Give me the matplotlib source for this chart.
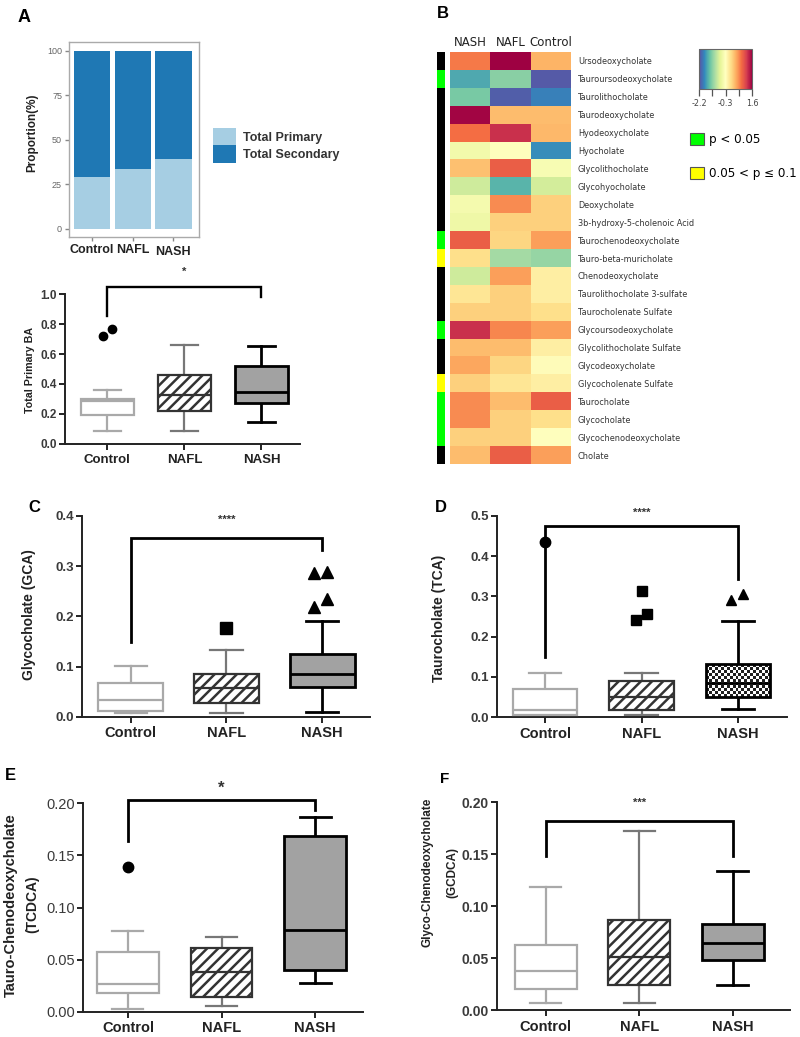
import matplotlib
matplotlib.use('Agg')
import matplotlib.pyplot as plt
import numpy as np
from matplotlib.patches import Patch
from matplotlib.colors import ListedColormap

plt.rcParams['font.family'] = ['Liberation Sans', 'DejaVu Sans']
plt.rcParams['hatch.linewidth'] = 1.8

W, H = 800, 1037
fig = plt.figure(figsize=(8, 10.37), dpi=100)


def add_ax(l, t, r, b):
    return fig.add_axes([l / W, 1 - b / H, (r - l) / W, (b - t) / H])


def ptext(x, y, s, **kw):
    return fig.text(x / W, 1 - y / H, s, **kw)


# ---------------------------------------------------------------- data
groups = ['Control', 'NAFL', 'NASH']

# Panel A (top): proportion of primary / secondary bile acids (%)
primary_pct = [29.2, 33.7, 39.3]
secondary_pct = [70.8, 66.3, 60.7]

# Panel A (bottom): Total Primary BA
tpba_whislo = [0.084, 0.089, 0.147]
tpba_q1 = [0.196, 0.222, 0.273]
tpba_med = [0.284, 0.329, 0.344]
tpba_q3 = [0.302, 0.462, 0.522]
tpba_whishi = [0.360, 0.662, 0.653]
tpba_fliers = [[0.718, 0.769], [], []]
tpba_bracket = [0.851, 1.047, 0.978]

# Panel B heatmap
bile_acids = ['Ursodeoxycholate', 'Tauroursodeoxycholate', 'Taurolithocholate',
              'Taurodeoxycholate', 'Hyodeoxycholate', 'Hyocholate',
              'Glycolithocholate', 'Glycohyocholate', 'Deoxycholate',
              '3b-hydroxy-5-cholenoic Acid', 'Taurochenodeoxycholate',
              'Tauro-beta-muricholate', 'Chenodeoxycholate',
              'Taurolithocholate 3-sulfate', 'Taurocholenate Sulfate',
              'Glycoursodeoxycholate', 'Glycolithocholate Sulfate',
              'Glycodeoxycholate', 'Glycocholenate Sulfate', 'Taurocholate',
              'Glycocholate', 'Glycochenodeoxycholate', 'Cholate']
heat_columns = ['NASH', 'NAFL', 'Control']
heat_nash = [0.76, -1.60, -1.33, 1.56, 0.84, -0.49, 0.31, -0.83, -0.45, -0.53,
             0.95, 0.08, -0.83, 0.00, 0.19, 1.30, 0.35, 0.50, 0.19, 0.65,
             0.65, 0.19, 0.35]
heat_nafl = [1.60, -1.25, -2.09, 0.35, 1.30, -0.30, 0.95, -1.52, 0.65, 0.19,
             0.16, -1.10, 0.54, 0.19, 0.19, 0.69, 0.35, 0.16, 0.00, 0.35,
             0.19, 0.19, 0.95]
heat_control = [0.40, -2.12, -1.86, 0.35, 0.38, -1.78, -0.41, -0.79, 0.19, 0.19,
                0.54, -1.17, -0.10, -0.10, 0.08, 0.54, -0.10, -0.26, -0.10, 0.95,
                0.08, -0.30, 0.54]
significance = ['ns', 'p05', 'ns', 'ns', 'ns', 'ns', 'ns', 'ns', 'ns', 'ns',
                'p05', 'p10', 'ns', 'ns', 'ns', 'p05', 'ns', 'ns', 'p10', 'p05',
                'p05', 'p05', 'ns']
heat_range = [-2.2, 1.6]

# Panel C: Glycocholate (GCA)
gca_whislo = [0.007, 0.008, 0.009]
gca_q1 = [0.011, 0.028, 0.060]
gca_med = [0.033, 0.058, 0.086]
gca_q3 = [0.068, 0.086, 0.125]
gca_whishi = [0.102, 0.133, 0.191]
gca_fliers = [[], [0.177], [0.287, 0.289, 0.219, 0.234]]
gca_bracket = [0.148, 0.357, 0.332]

# Panel D: Taurocholate (TCA)
tca_whislo = [0.004, 0.006, 0.020]
tca_q1 = [0.006, 0.017, 0.050]
tca_med = [0.018, 0.050, 0.084]
tca_q3 = [0.069, 0.091, 0.131]
tca_whishi = [0.111, 0.111, 0.239]
tca_fliers = [[0.436], [0.241, 0.255, 0.314], [0.291, 0.307]]
tca_bracket = [0.150, 0.475, 0.342]

# Panel E: Tauro-Chenodeoxycholate (TCDCA)
tcdca_whislo = [0.0026, 0.0054, 0.0278]
tcdca_q1 = [0.0176, 0.0138, 0.0400]
tcdca_med = [0.0266, 0.0384, 0.0784]
tcdca_q3 = [0.0570, 0.0614, 0.1686]
tcdca_whishi = [0.0778, 0.0720, 0.1870]
tcdca_fliers = [[0.139], [], []]
tcdca_bracket = [0.164, 0.203, 0.194]

# Panel F: Glyco-Chenodeoxycholate (GCDCA)
gcdca_whislo = [0.0070, 0.0064, 0.0238]
gcdca_q1 = [0.0200, 0.0240, 0.0480]
gcdca_med = [0.0380, 0.0507, 0.0648]
gcdca_q3 = [0.0630, 0.0867, 0.0828]
gcdca_whishi = [0.1180, 0.1727, 0.1339]
gcdca_fliers = [[], [], []]
gcdca_bracket = [0.148, 0.182, 0.148]

# ---------------------------------------------------------------- styles
BOX_STYLE = [
    dict(face='white', edge='#a9a9a9', whisk='#a9a9a9', med='#a9a9a9', lw=1.6, hatch=None),
    dict(face='white', edge='#333333', whisk='#777777', med='#333333', lw=1.6, hatch='///'),
    dict(face='#a2a2a2', edge='black', whisk='black', med='black', lw=2.0, hatch=None),
]
BOLD = dict(family='Liberation Sans', weight='bold')


def box_panel(ax, whislo, q1, med, q3, whishi, fliers, flier_dx, markers,
              width, ms, checker=False):
    stats = []
    for i in range(3):
        stats.append(dict(whislo=whislo[i], q1=q1[i], med=med[i], q3=q3[i],
                          whishi=whishi[i], fliers=[]))
    res = ax.bxp(stats, positions=[0, 1, 2], widths=width,
                 capwidths=width * 0.5, patch_artist=True, showfliers=False,
                 manage_ticks=False)
    for i, st in enumerate(BOX_STYLE):
        box = res['boxes'][i]
        box.set_facecolor(st['face'])
        box.set_edgecolor(st['edge'])
        box.set_linewidth(st['lw'])
        box.set_zorder(3)
        if st['hatch']:
            box.set_hatch(st['hatch'])
        res['medians'][i].set(color=st['med'], lw=st['lw'], zorder=4)
        for w in res['whiskers'][2 * i:2 * i + 2]:
            w.set(color=st['whisk'], lw=st['lw'])
        for c in res['caps'][2 * i:2 * i + 2]:
            c.set(color=st['whisk'], lw=st['lw'])
    if checker:
        box = res['boxes'][2]
        ext = box.get_path().get_extents()
        yy, xx = np.indices((11, 22))
        pattern = ((yy + xx) % 2).astype(float)
        box.set_facecolor('none')
        ax.imshow(pattern, cmap='gray', vmin=-0.15, vmax=1, aspect='auto',
                  interpolation='nearest', zorder=2.5,
                  extent=(ext.x0, ext.x1, ext.y0, ext.y1))
    for i in range(3):
        if fliers[i]:
            xs = [i + d for d in flier_dx[i]]
            ax.plot(xs, fliers[i], linestyle='none', marker=markers[i],
                    color='black', ms=ms, clip_on=False, zorder=5)


def bracket(ax, vals, stars, star_y, size, lw=2.0):
    left, top, right = vals
    ax.plot([0, 0, 2, 2], [left, top, top, right], color='black', lw=lw,
            clip_on=False, solid_joinstyle='miter', zorder=5)
    ax.text(1, star_y, stars, ha='center', va='center', fontsize=size,
            color='#333333', clip_on=False, **BOLD)


def style_axes(ax, ylim, xlim, yticks, yfmt, ylabsize, ylabbold=True, catsize=10.5):
    ax.set_ylim(*ylim)
    ax.set_xlim(*xlim)
    for s in ['top', 'right']:
        ax.spines[s].set_visible(False)
    for s in ['left', 'bottom']:
        ax.spines[s].set_linewidth(1.4)
        ax.spines[s].set_color('#222222')
    ax.set_yticks(yticks)
    ax.set_yticklabels([yfmt.format(v) for v in yticks],
                       fontweight='bold' if ylabbold else 'normal')
    ax.set_xticks([0, 1, 2])
    ax.set_xticklabels(groups, fontsize=catsize, fontweight='bold', color='#222222')
    ax.tick_params(axis='y', direction='out', length=4, width=1.4,
                   labelsize=ylabsize, labelcolor='#3a3a3a', color='#222222', pad=2)
    ax.tick_params(axis='x', direction='out', length=4, width=1.4,
                   color='#222222', pad=3)


# ---------------------------------------------------------------- Panel A top
axA = add_ax(69, 42, 199, 237)
xpos = np.arange(3)
axA.bar(xpos, primary_pct, width=0.9, color='#a6cee3', label='Total Primary')
axA.bar(xpos, secondary_pct, width=0.9, bottom=primary_pct, color='#1f78b4',
        label='Total Secondary')
axA.set_xlim(-0.57, 2.63)
axA.set_ylim(-4.5, 105)
axA.set_yticks([0, 25, 50, 75, 100])
axA.set_yticklabels(['0', '25', '50', '75', '100'], fontsize=6.5, color='#666666')
axA.set_xticks(xpos)
axA.set_xticklabels(groups, fontsize=9, fontweight='bold', color='#222222')
for lab in axA.get_xticklabels()[2:]:
    lab.set_y(-0.01)
axA.tick_params(axis='both', direction='out', length=3, width=1, color='#888888', pad=2)
for s in axA.spines.values():
    s.set_color('#aaaaaa')
    s.set_linewidth(1.0)
ptext(32, 133, 'Proportion(%)', rotation=90, ha='center', va='center',
      fontsize=8.5, color='#222222', **BOLD)
axA.legend(loc='center left', bbox_to_anchor=(1.11, 0.47), frameon=False,
           prop=dict(family='Liberation Sans', weight='bold', size=9),
           handlelength=1.85, handleheight=1.75, labelspacing=0.0,
           handletextpad=0.5, borderpad=0, borderaxespad=0)
for t in axA.get_legend().get_texts():
    t.set_color('#333333')

# ---------------------------------------------------------------- Panel A bottom
axA2 = add_ax(65, 294, 300, 444)
box_panel(axA2, tpba_whislo, tpba_q1, tpba_med, tpba_q3, tpba_whishi,
          tpba_fliers, [[-0.06, 0.06], [], []], ['o', 'o', 'o'], 0.69, 6)
style_axes(axA2, (0, 1.0), (-0.55, 2.5), [0, 0.2, 0.4, 0.6, 0.8, 1.0], '{:.1f}', 8.5,
           catsize=9.5)
bracket(axA2, tpba_bracket, '*', 1.15, 8, lw=1.7)
ptext(30, 370, 'Total Primary BA', rotation=90, ha='center', va='center',
      fontsize=7.7, color='#222222', **BOLD)

# ---------------------------------------------------------------- Panel B
axS = add_ax(437, 52, 445, 464)
sig_colors = {'ns': 0, 'p05': 1, 'p10': 2}
axS.imshow(np.array([[sig_colors[s]] for s in significance]),
           cmap=ListedColormap(['black', '#00ff00', '#ffff00']), vmin=0, vmax=2,
           aspect='auto', interpolation='nearest')
axS.axis('off')

axH = add_ax(450, 52, 571, 464)
heat = np.array([heat_nash, heat_nafl, heat_control]).T
im = axH.imshow(heat, cmap='Spectral_r', vmin=heat_range[0], vmax=heat_range[1],
                aspect='auto', interpolation='nearest')
axH.set_yticks(np.arange(len(bile_acids)))
axH.set_yticklabels(bile_acids, fontsize=5.9, family='DejaVu Sans', color='#333333')
axH.yaxis.tick_right()
axH.set_xticks(np.arange(3))
axH.set_xticklabels(heat_columns, fontsize=8.5, family='DejaVu Sans', color='#222222')
axH.xaxis.tick_top()
axH.tick_params(axis='y', length=0, pad=5)
axH.tick_params(axis='x', length=0, pad=2)
for s in axH.spines.values():
    s.set_visible(False)

cax = add_ax(699, 49, 752, 89)
cb = fig.colorbar(im, cax=cax, orientation='horizontal')
cb.set_ticks(np.linspace(heat_range[0], heat_range[1], 5))
cb.set_ticklabels(['-2.2', '', '-0.3', '', '1.6'])
cb.outline.set_edgecolor('#666666')
cb.outline.set_linewidth(0.8)
cax.tick_params(length=5, width=0.9, color='#555555', labelsize=5.8, pad=2,
                labelcolor='#444444')
for t in cax.get_xticklabels():
    t.set_family('DejaVu Sans')

fig.legend(handles=[Patch(facecolor='#00ff00', edgecolor='#555555', lw=0.8),
                    Patch(facecolor='#ffff00', edgecolor='#555555', lw=0.8)],
           labels=['p < 0.05', '0.05 < p \u2264 0.1'],
           loc='upper left', bbox_to_anchor=(690 / W, 1 - 133 / H), frameon=False,
           prop=dict(family='DejaVu Sans', size=8.6), handlelength=1.15,
           handleheight=1.15, labelspacing=1.75, handletextpad=0.45,
           borderpad=0, borderaxespad=0)

# ---------------------------------------------------------------- Panel C
axC = add_ax(82, 516, 370, 716.7)
box_panel(axC, gca_whislo, gca_q1, gca_med, gca_q3, gca_whishi, gca_fliers,
          [[], [0.0], [-0.09, 0.05, -0.09, 0.05]], ['o', 's', '^'], 0.68, 8)
style_axes(axC, (0, 0.4), (-0.51, 2.5), [0, 0.1, 0.2, 0.3, 0.4], '{:.1f}', 9.5)
bracket(axC, gca_bracket, '****', 0.392, 8)
ptext(29, 615, 'Glycocholate (GCA)', rotation=90, ha='center', va='center',
      fontsize=10, color='#222222', **BOLD)

# ---------------------------------------------------------------- Panel D
axD = add_ax(497, 515.7, 787, 717.3)
box_panel(axD, tca_whislo, tca_q1, tca_med, tca_q3, tca_whishi, tca_fliers,
          [[0.0], [-0.06, 0.06, 0.0], [-0.07, 0.05]], ['o', 's', '^'], 0.67, 7.5,
          checker=True)
style_axes(axD, (0, 0.5), (-0.5, 2.51), [0, 0.1, 0.2, 0.3, 0.4, 0.5], '{:.1f}', 9.5)
bracket(axD, tca_bracket, '****', 0.506, 8)
ptext(439, 618, 'Taurocholate (TCA)', rotation=90, ha='center', va='center',
      fontsize=10, color='#222222', **BOLD)

# ---------------------------------------------------------------- Panel E
axE = add_ax(83, 803.3, 363, 1011.7)
box_panel(axE, tcdca_whislo, tcdca_q1, tcdca_med, tcdca_q3, tcdca_whishi,
          tcdca_fliers, [[0.0], [], []], ['o', 'o', 'o'], 0.66, 7.5)
style_axes(axE, (0, 0.2), (-0.48, 2.51), [0, 0.05, 0.10, 0.15, 0.20], '{:.2f}', 10.5,
           ylabbold=False)
bracket(axE, tcdca_bracket, '*', 0.214, 12)
ptext(11, 905, 'Tauro-Chenodeoxycholate', rotation=90, ha='center', va='center',
      fontsize=10.5, color='#222222', **BOLD)
ptext(32, 904, '(TCDCA)', rotation=90, ha='center', va='center',
      fontsize=10, color='#222222', **BOLD)

# ---------------------------------------------------------------- Panel F
axF = add_ax(497, 802.3, 790, 1010)
box_panel(axF, gcdca_whislo, gcdca_q1, gcdca_med, gcdca_q3, gcdca_whishi,
          gcdca_fliers, [[], [], []], ['o', 'o', 'o'], 0.66, 7)
style_axes(axF, (0, 0.2), (-0.52, 2.61), [0, 0.05, 0.10, 0.15, 0.20], '{:.2f}', 10)
bracket(axF, gcdca_bracket, '***', 0.199, 8)
ptext(428, 872, 'Glyco-Chenodeoxycholate', rotation=90, ha='center', va='center',
      fontsize=8.5, color='#222222', **BOLD)
ptext(452, 872, '(GCDCA)', rotation=90, ha='center', va='center',
      fontsize=8.5, color='#222222', **BOLD)

# ---------------------------------------------------------------- panel letters
for letter, x, y, size in [('A', 18, 22, 13), ('B', 437, 18, 12), ('C', 28, 512, 12),
                           ('D', 435, 512, 12), ('E', 5, 780, 12), ('F', 440, 783, 11)]:
    ptext(x, y, letter, ha='left', va='baseline', fontsize=size, color='black', **BOLD)

fig.savefig('out.png', dpi=100)
